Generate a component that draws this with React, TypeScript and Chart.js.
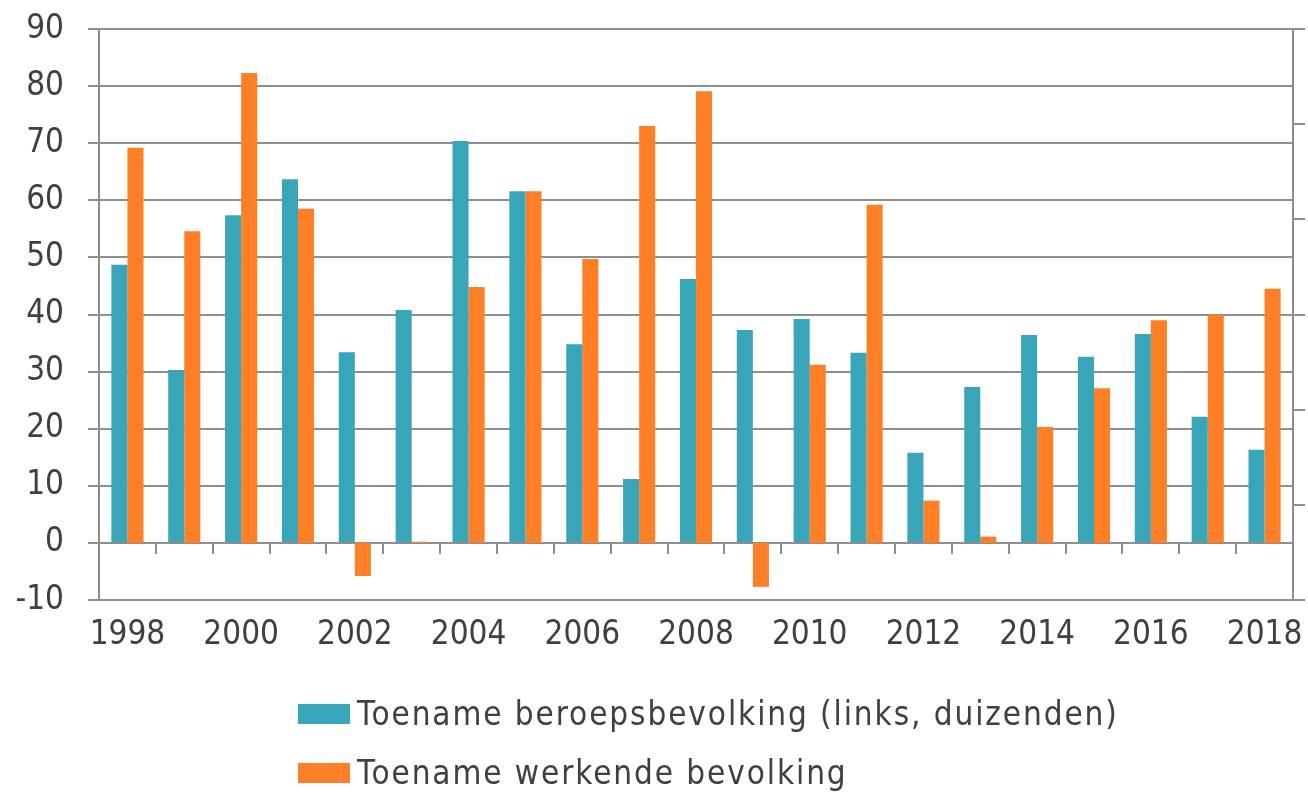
import React, { useEffect, useRef } from 'react';
import { Chart, registerables } from 'chart.js';

Chart.register(...registerables);

const YEARS = ['1998','1999','2000','2001','2002','2003','2004','2005','2006','2007','2008','2009','2010','2011','2012','2013','2014','2015','2016','2017','2018'];
const BEROEPS = [48.7, 30.3, 57.4, 63.7, 33.4, 40.8, 70.4, 61.6, 34.8, 11.2, 46.2, 37.3, 39.2, 33.3, 15.8, 27.3, 36.4, 32.6, 36.6, 22.1, 16.3];
// right-axis series, expressed in the scale shared with the left axis (right-axis labels are not visible)
const WERKENDE = [69.2, 54.6, 82.3, 58.5, -5.8, 0.2, 44.8, 61.6, 49.7, 73.0, 79.1, -7.7, 31.2, 59.2, 7.4, 1.1, 20.3, 27.1, 39.0, 39.9, 44.5];
const LEFT_TICKS = [-10, 0, 10, 20, 30, 40, 50, 60, 70, 80, 90];
const RIGHT_TICKS = [-10, 6.667, 23.333, 40, 56.667, 73.333, 90];
const LEGEND_LABELS = ['Toename beroepsbevolking (links, duizenden)', 'Toename werkende bevolking'];

const TEAL = '#38a6b8';
const ORANGE = '#ff7f27';
const GRID = '#8e8e8e';
const TEXT = '#404040';
const FONT = "'DejaVu Sans Condensed', 'DejaVu Sans', sans-serif";
const FONT_SIZE = 33;

const zeroAxisPlugin = {
  id: 'zeroAxis',
  beforeDatasetsDraw(chart: any) {
    const { ctx, chartArea, scales } = chart;
    const y0 = scales.y.getPixelForValue(0);
    const xs = scales.x;
    ctx.save();
    ctx.strokeStyle = GRID;
    ctx.lineWidth = 2;
    ctx.beginPath();
    ctx.moveTo(chartArea.left, y0);
    ctx.lineTo(chartArea.right, y0);
    for (let i = 1; i < YEARS.length; i++) {
      const bx = Math.round((xs.getPixelForValue(i - 1) + xs.getPixelForValue(i)) / 2);
      ctx.moveTo(bx, y0);
      ctx.lineTo(bx, y0 + 11);
    }
    ctx.stroke();
    ctx.restore();
  },
};

export default function App() {
  const ref = useRef<HTMLCanvasElement>(null);
  useEffect(() => {
    const canvas = ref.current;
    if (!canvas) return;
    const chart = new Chart(canvas, {
      type: 'bar',
      data: {
        labels: YEARS,
        datasets: [
          { label: LEGEND_LABELS[0], data: BEROEPS, backgroundColor: TEAL, yAxisID: 'y', categoryPercentage: 0.565, barPercentage: 1.0 },
          { label: LEGEND_LABELS[1], data: WERKENDE, backgroundColor: ORANGE, yAxisID: 'y1', categoryPercentage: 0.565, barPercentage: 1.0 },
        ],
      },
      options: {
        responsive: false,
        animation: false,
        layout: { padding: { top: 29, left: 0, right: 0, bottom: 0 } },
        plugins: { legend: { display: false }, tooltip: { enabled: false } },
        scales: {
          x: {
            grid: { display: false, drawTicks: false },
            border: { display: false },
            ticks: {
              autoSkip: false,
              maxRotation: 0,
              padding: 16,
              color: TEXT,
              font: { family: FONT, size: FONT_SIZE },
              callback: (_v: any, i: number) => (i % 2 === 0 ? YEARS[i] : ''),
            },
            afterFit: (s: any) => { s.height = 192; s.paddingLeft = 0; s.paddingRight = 0; },
          },
          y: {
            position: 'left',
            min: -10,
            max: 90,
            afterBuildTicks: (s: any) => { s.ticks = LEFT_TICKS.map((v) => ({ value: v })); },
            grid: { color: GRID, lineWidth: 2, tickLength: 11 },
            border: { display: true, color: GRID, width: 2 },
            ticks: { padding: 24, color: TEXT, font: { family: FONT, size: FONT_SIZE } },
            afterFit: (s: any) => { s.width = 99; s.paddingTop = 0; s.paddingBottom = 0; },
          },
          y1: {
            position: 'right',
            min: -10,
            max: 90,
            afterBuildTicks: (s: any) => { s.ticks = RIGHT_TICKS.map((v) => ({ value: v })); },
            grid: { drawOnChartArea: false, color: GRID, lineWidth: 2, tickLength: 12 },
            border: { display: true, color: GRID, width: 2 },
            ticks: { display: false },
            afterFit: (s: any) => { s.width = 15; s.paddingTop = 0; s.paddingBottom = 0; },
          },
        },
      },
      plugins: [zeroAxisPlugin],
    } as any);
    return () => chart.destroy();
  }, []);

  const legendItem = (color: string, label: string, top: number) => (
    <div style={{ position: 'absolute', left: 298, top, height: 40, display: 'flex', alignItems: 'center' }}>
      <div style={{ width: 52, height: 20, background: color, marginRight: 7 }} />
      <span style={{ fontFamily: FONT, fontSize: FONT_SIZE, color: TEXT, whiteSpace: 'nowrap', lineHeight: '40px', letterSpacing: '1.9px' }}>{label}</span>
    </div>
  );

  return (
    <div style={{ position: 'fixed', left: 0, top: 0, width: 1308, height: 792, background: '#fff', overflow: 'hidden' }}>
      <canvas ref={ref} width={1308} height={792} style={{ position: 'absolute', left: 0, top: 0 }} />
      {legendItem(TEAL, LEGEND_LABELS[0], 694)}
      {legendItem(ORANGE, LEGEND_LABELS[1], 753)}
    </div>
  );
}
